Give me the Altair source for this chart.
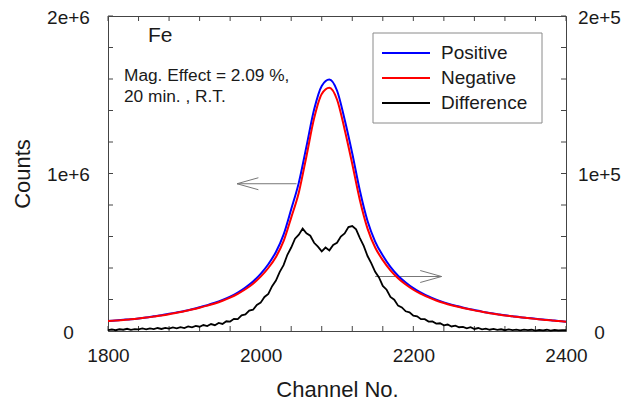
import altair as alt
import pandas as pd

FONT = "Liberation Sans"
TEXT_COLOR = "#1a1a1a"

# ---- data (counts in thousands) ----
CHANNEL_COARSE = list(range(1800, 2401, 10))
POSITIVE_K = [64, 67, 71, 75, 80, 86, 93, 100, 109, 118,
              127, 138, 151, 164, 179, 197, 218, 244, 276, 314,
              363, 424, 502, 612, 773, 942, 1172, 1406, 1556, 1597,
              1527, 1343, 1127, 890, 698, 568, 479, 407, 351, 308,
              272, 244, 219, 199, 182, 167, 155, 143, 133, 123,
              114, 107, 100, 94, 88, 83, 78, 73, 68, 64, 59]
NEGATIVE_K = [63, 66, 70, 74, 79, 85, 92, 99, 107, 116,
              125, 136, 148, 161, 175, 192, 212, 236, 265, 300,
              345, 400, 470, 570, 720, 880, 1110, 1350, 1505, 1545,
              1470, 1280, 1060, 830, 650, 530, 450, 385, 335, 295,
              262, 236, 213, 194, 178, 164, 152, 141, 131, 122,
              113, 106, 99, 93, 87, 82, 77, 72, 68, 63, 59]

CHANNEL_FINE = list(range(1800, 2401, 5))
DIFFERENCE_K = [0.6, 1.0, 0.5, 1.1, 0.8, 1.4, 0.7, 1.2, 1.0, 1.6,
                1.0, 1.7, 1.2, 1.9, 1.3, 2.0, 1.5, 2.3, 1.7, 2.5,
                1.9, 2.9, 2.3, 3.2, 2.7, 3.8, 3.1, 4.4, 3.7, 5.1,
                4.5, 6.2, 6.0, 7.7, 7.6, 9.9, 10.5, 12.9, 13.5, 16.6,
                18.0, 21.6, 23.6, 28.5, 32.0, 37.6, 41.8, 48.4, 53.0, 58.6,
                61.2, 65.0, 62.0, 60.5, 56.0, 53.6, 50.6, 53.0, 51.2, 54.6,
                56.0, 60.0, 62.0, 66.0, 66.6, 64.5, 59.0, 54.0, 47.6, 43.0,
                37.6, 34.0, 28.6, 26.2, 21.6, 19.9, 16.1, 15.0, 12.5, 11.9,
                9.7, 9.3, 7.5, 7.5, 6.0, 6.1, 4.7, 4.9, 3.6, 4.1,
                2.9, 3.4, 2.4, 2.6, 1.7, 2.4, 1.3, 1.9, 1.0, 1.5,
                0.8, 1.3, 0.7, 1.1, 0.5, 1.0, 0.6, 0.9, 0.4, 0.9,
                0.5, 0.8, 0.3, 0.7, 0.4, 0.8, 0.3, 0.7, 0.4, 0.5, 0.5]

SERIES = ["Positive", "Negative", "Difference"]
COLORS = ["#0000ff", "#ff0000", "#000000"]

X_TICKS = [1800, 2000, 2200, 2400]
X_MINOR = list(range(1800, 2401, 40))
Y_LEFT_TICKS = [0, 1000000, 2000000]
Y_RIGHT_TICKS = [0, 100000, 200000]
Y_MINOR = [i * 200000 for i in range(11)]

# arrows (channel, counts on left scale)
ARROW_X = [1969, 1969, 1969, 2150, 2237, 2237]
ARROW_X2 = [2047, 1997, 1997, 2237, 2209, 2209]
ARROW_Y = [935000, 935000, 935000, 346000, 346000, 346000]
ARROW_Y2 = [935000, 973000, 897000, 346000, 384000, 308000]

# ---- tables ----
pos_df = pd.DataFrame({"channel": CHANNEL_COARSE,
                       "y": [v * 1000 for v in POSITIVE_K],
                       "series": "Positive"})
neg_df = pd.DataFrame({"channel": CHANNEL_COARSE,
                       "y": [v * 1000 for v in NEGATIVE_K],
                       "series": "Negative"})
diff_df = pd.DataFrame({"channel": CHANNEL_FINE,
                        "y": [v * 1000 for v in DIFFERENCE_K],
                        "series": "Difference"})
arrow_df = pd.DataFrame({"channel": ARROW_X, "channel2": ARROW_X2,
                         "y": ARROW_Y, "y2": ARROW_Y2})
xminor_df = pd.DataFrame({"channel": X_MINOR})
yminor_df = pd.DataFrame({"y": Y_MINOR})

W, H = 458, 315

x_axis = alt.Axis(values=X_TICKS, title="Channel No.", ticks=False, tickSize=0,
                  domain=False, grid=False, format="d", labelFontSize=19,
                  labelFont=FONT, labelColor=TEXT_COLOR, labelPadding=15,
                  labelFlush=False, titleFont=FONT, titleFontSize=22,
                  titleFontWeight="normal", titleColor=TEXT_COLOR, titlePadding=14)
x_scale = alt.Scale(domain=[1800, 2400], nice=False, zero=False)

y_left_axis = alt.Axis(values=Y_LEFT_TICKS, title="Counts", ticks=False, tickSize=0,
                       domain=False, grid=False, labelFontSize=19, labelFont=FONT,
                       labelColor=TEXT_COLOR, labelAlign="center", labelPadding=40,
                       labelFlush=False, labelOffset=1,
                       labelExpr="datum.value == 0 ? '0' : datum.value == 1000000 ? '1e+6' : '2e+6'",
                       titleFont=FONT, titleFontSize=22, titleFontWeight="normal",
                       titleColor=TEXT_COLOR, titleAngle=-90, titleX=-86, titleY=H / 2,
                       titleAlign="center", titleBaseline="middle")
y_left_scale = alt.Scale(domain=[0, 2000000], nice=False, zero=True)

y_right_axis = alt.Axis(values=Y_RIGHT_TICKS, title=None, orient="right", ticks=False,
                        tickSize=0, domain=False, grid=False, labelFontSize=19,
                        labelFont=FONT, labelColor=TEXT_COLOR, labelAlign="center",
                        labelPadding=33, labelFlush=False, labelOffset=1,
                        labelExpr="datum.value == 0 ? '0' : datum.value == 100000 ? '1e+5' : '2e+5'")
y_right_scale = alt.Scale(domain=[0, 200000], nice=False, zero=True)

color = alt.Color("series:N", scale=alt.Scale(domain=SERIES, range=COLORS), legend=None)

X = alt.X("channel:Q", scale=x_scale, axis=x_axis)
YL = alt.Y("y:Q", scale=y_left_scale, axis=y_left_axis)

pos_line = alt.Chart(pos_df).mark_line(strokeWidth=2, interpolate="monotone").encode(
    x=X, y=YL, color=color)
neg_line = alt.Chart(neg_df).mark_line(strokeWidth=2, interpolate="monotone").encode(
    x=X, y=YL, color=color)

arrows = alt.Chart(arrow_df).mark_rule(color="#777777", strokeWidth=1).encode(
    x=X, x2="channel2:Q", y=YL, y2="y2:Q")

tick_style = dict(color="#444444", strokeWidth=1)
bottom_ticks = alt.Chart(xminor_df).mark_rule(**tick_style).encode(
    x=X, y=alt.value(H), y2=alt.value(H - 5))
top_ticks = alt.Chart(xminor_df).mark_rule(**tick_style).encode(
    x=X, y=alt.value(0), y2=alt.value(5))
left_ticks = alt.Chart(yminor_df).mark_rule(**tick_style).encode(
    y=YL, x=alt.value(0), x2=alt.value(5))
right_ticks = alt.Chart(yminor_df).mark_rule(**tick_style).encode(
    y=YL, x=alt.value(W - 5), x2=alt.value(W))

fe_text = alt.Chart(pd.DataFrame({"t": ["Fe"]})).mark_text(
    font=FONT, fontSize=21, color=TEXT_COLOR, align="left", baseline="middle").encode(
    text="t:N", x=alt.value(40), y=alt.value(20))
info_text = alt.Chart(pd.DataFrame({"t": ["Mag. Effect = 2.09 %,"]})).mark_text(
    font=FONT, fontSize=17.3, color=TEXT_COLOR, align="left", baseline="middle").encode(
    text="t:N", x=alt.value(16), y=alt.value(60))
info_text2 = alt.Chart(pd.DataFrame({"t": ["20 min. ,  R.T."]})).mark_text(
    font=FONT, fontSize=17.3, color=TEXT_COLOR, align="left", baseline="middle").encode(
    text="t:N", x=alt.value(16), y=alt.value(81))

# legend box drawn from the series list
LEG_TOP = 17
LEG_ROW = 25
legend_df = pd.DataFrame({"series": SERIES, "row": [0, 1, 2]})
row_scale = alt.Scale(domain=[0, 2], range=[LEG_TOP + 20, LEG_TOP + 20 + 2 * LEG_ROW])
legend_box = alt.Chart(pd.DataFrame({"a": [0]})).mark_rect(
    fill="white", stroke="#8a8a8a", strokeWidth=1).encode(
    x=alt.value(265), x2=alt.value(434), y=alt.value(LEG_TOP), y2=alt.value(LEG_TOP + 90))
legend_lines = alt.Chart(legend_df).mark_rule(strokeWidth=2).encode(
    x=alt.value(274), x2=alt.value(322),
    y=alt.Y("row:Q", scale=row_scale, axis=None),
    color=color)
legend_labels = alt.Chart(legend_df).mark_text(
    font=FONT, fontSize=19, color=TEXT_COLOR, align="left", baseline="middle").encode(
    x=alt.value(333),
    y=alt.Y("row:Q", scale=row_scale, axis=None),
    text="series:N")
legend_group = alt.layer(legend_box, legend_lines, legend_labels)

left_group = alt.layer(bottom_ticks, top_ticks, left_ticks, right_ticks, arrows,
                       pos_line, neg_line, fe_text, info_text, info_text2)

diff_line = alt.Chart(diff_df).mark_line(strokeWidth=1.8).encode(
    x=X, y=alt.Y("y:Q", scale=y_right_scale, axis=y_right_axis), color=color)

chart = alt.layer(left_group, diff_line, legend_group).resolve_scale(
    y="independent").properties(
    width=W, height=H,
    autosize=alt.AutoSizeParams(type="none"),
    padding={"left": 100, "top": 8, "right": 56, "bottom": 71},
    background="white",
).configure_view(stroke="#444444", strokeWidth=1)

chart.save("out.html", embed_options={"renderer": "svg", "actions": False})
